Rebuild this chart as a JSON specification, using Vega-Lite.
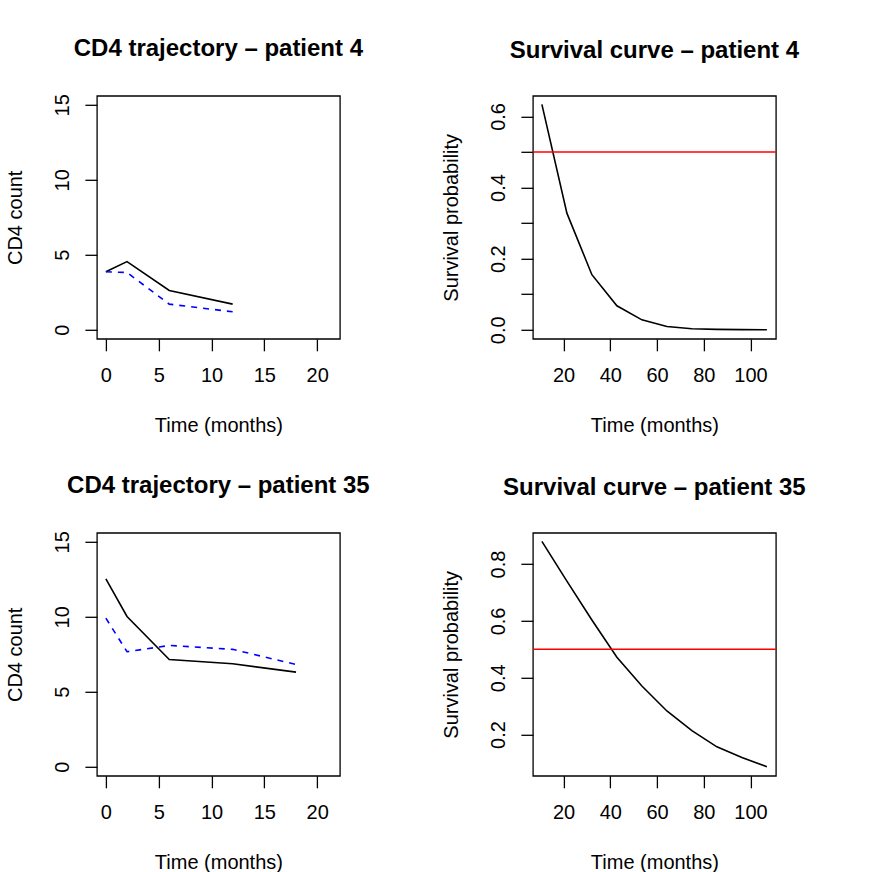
{
  "$schema": "https://vega.github.io/schema/vega-lite/v6.json",
  "background": "white",
  "padding": {"left": 3.9, "top": 35.8, "right": 10, "bottom": 5},
  "datasets": {
    "cd4": [
      {"patient": 4, "series": "observed", "time": 0, "value": 3.87},
      {"patient": 4, "series": "observed", "time": 2, "value": 4.55},
      {"patient": 4, "series": "observed", "time": 6, "value": 2.62},
      {"patient": 4, "series": "observed", "time": 12, "value": 1.71},
      {"patient": 4, "series": "fitted", "time": 0, "value": 3.87},
      {"patient": 4, "series": "fitted", "time": 2, "value": 3.82},
      {"patient": 4, "series": "fitted", "time": 6, "value": 1.71},
      {"patient": 4, "series": "fitted", "time": 12, "value": 1.2},
      {"patient": 35, "series": "observed", "time": 0, "value": 12.53},
      {"patient": 35, "series": "observed", "time": 2, "value": 10.02},
      {"patient": 35, "series": "observed", "time": 6, "value": 7.15},
      {"patient": 35, "series": "observed", "time": 12, "value": 6.87},
      {"patient": 35, "series": "observed", "time": 18, "value": 6.31},
      {"patient": 35, "series": "fitted", "time": 0, "value": 9.91},
      {"patient": 35, "series": "fitted", "time": 2, "value": 7.67},
      {"patient": 35, "series": "fitted", "time": 6, "value": 8.09},
      {"patient": 35, "series": "fitted", "time": 12, "value": 7.83},
      {"patient": 35, "series": "fitted", "time": 18, "value": 6.82}
    ],
    "surv": [
      {"patient": 4, "time": 10.7, "prob": 0.634},
      {"patient": 4, "time": 21.4, "prob": 0.328},
      {"patient": 4, "time": 32.1, "prob": 0.155},
      {"patient": 4, "time": 42.8, "prob": 0.0675},
      {"patient": 4, "time": 53.5, "prob": 0.028},
      {"patient": 4, "time": 64.2, "prob": 0.0094},
      {"patient": 4, "time": 74.9, "prob": 0.003},
      {"patient": 4, "time": 85.6, "prob": 0.0012},
      {"patient": 4, "time": 96.3, "prob": 0.0004},
      {"patient": 4, "time": 107.0, "prob": 0.0001},
      {"patient": 35, "time": 10.7, "prob": 0.88},
      {"patient": 35, "time": 21.4, "prob": 0.74},
      {"patient": 35, "time": 32.1, "prob": 0.603},
      {"patient": 35, "time": 42.8, "prob": 0.472},
      {"patient": 35, "time": 53.5, "prob": 0.371},
      {"patient": 35, "time": 64.2, "prob": 0.283},
      {"patient": 35, "time": 74.9, "prob": 0.214},
      {"patient": 35, "time": 85.6, "prob": 0.157},
      {"patient": 35, "time": 96.3, "prob": 0.119},
      {"patient": 35, "time": 107.0, "prob": 0.087}
    ],
    "ref": [{"level": 0.5}]
  },
  "columns": 2,
  "bounds": "flush",
  "spacing": {"row": 194, "column": 193},
  "concat": [
    {
      "width": 243, "height": 243,
      "title": "CD4 trajectory – patient 4",
      "data": {"name": "cd4"},
      "transform": [{"filter": "datum.patient == 4"}],
      "encoding": {
        "x": {"field": "time", "type": "quantitative", "scale": {"domain": [-0.85, 22.15], "nice": false, "zero": false}, "axis": {"values": [0, 5, 10, 15, 20], "title": "Time (months)"}},
        "y": {"field": "value", "type": "quantitative", "scale": {"domain": [-0.6, 15.6], "nice": false, "zero": false}, "axis": {"values": [0, 5, 10, 15], "title": "CD4 count"}}
      },
      "layer": [
        {"transform": [{"filter": "datum.series == 'observed'"}], "mark": {"type": "line", "color": "black", "strokeWidth": 1.6, "clip": true}},
        {"transform": [{"filter": "datum.series == 'fitted'"}], "mark": {"type": "line", "color": "#0000FF", "strokeWidth": 1.6, "strokeDash": [6, 6], "clip": true}}
      ]
    },
    {
      "width": 243, "height": 243,
      "title": "Survival curve – patient 4",
      "layer": [
        {
          "data": {"name": "surv"},
          "transform": [{"filter": "datum.patient == 4"}],
          "mark": {"type": "line", "color": "black", "strokeWidth": 1.6, "clip": true},
          "encoding": {
            "x": {"field": "time", "type": "quantitative", "scale": {"domain": [6.85, 110.85], "nice": false, "zero": false}, "axis": {"values": [20, 40, 60, 80, 100], "title": "Time (months)"}},
            "y": {"field": "prob", "type": "quantitative", "scale": {"domain": [-0.0253, 0.658], "nice": false, "zero": false}, "axis": {"values": [0, 0.1, 0.2, 0.3, 0.4, 0.5, 0.6], "labelExpr": "round(datum.value*10) % 2 == 0 ? format(datum.value, '.1f') : ''", "title": "Survival probability"}}
          }
        },
        {
          "data": {"name": "ref"},
          "mark": {"type": "rule", "color": "#FF0000", "strokeWidth": 1.6},
          "encoding": {"y": {"field": "level", "type": "quantitative"}}
        }
      ]
    },
    {
      "width": 243, "height": 243,
      "title": "CD4 trajectory – patient 35",
      "data": {"name": "cd4"},
      "transform": [{"filter": "datum.patient == 35"}],
      "encoding": {
        "x": {"field": "time", "type": "quantitative", "scale": {"domain": [-0.85, 22.15], "nice": false, "zero": false}, "axis": {"values": [0, 5, 10, 15, 20], "title": "Time (months)"}},
        "y": {"field": "value", "type": "quantitative", "scale": {"domain": [-0.6, 15.6], "nice": false, "zero": false}, "axis": {"values": [0, 5, 10, 15], "title": "CD4 count"}}
      },
      "layer": [
        {"transform": [{"filter": "datum.series == 'observed'"}], "mark": {"type": "line", "color": "black", "strokeWidth": 1.6, "clip": true}},
        {"transform": [{"filter": "datum.series == 'fitted'"}], "mark": {"type": "line", "color": "#0000FF", "strokeWidth": 1.6, "strokeDash": [6, 6], "clip": true}}
      ]
    },
    {
      "width": 243, "height": 243,
      "title": "Survival curve – patient 35",
      "layer": [
        {
          "data": {"name": "surv"},
          "transform": [{"filter": "datum.patient == 35"}],
          "mark": {"type": "line", "color": "black", "strokeWidth": 1.6, "clip": true},
          "encoding": {
            "x": {"field": "time", "type": "quantitative", "scale": {"domain": [6.85, 110.85], "nice": false, "zero": false}, "axis": {"values": [20, 40, 60, 80, 100], "title": "Time (months)"}},
            "y": {"field": "prob", "type": "quantitative", "scale": {"domain": [0.055, 0.91], "nice": false, "zero": false}, "axis": {"values": [0.2, 0.4, 0.6, 0.8], "format": ".1f", "title": "Survival probability"}}
          }
        },
        {
          "data": {"name": "ref"},
          "mark": {"type": "rule", "color": "#FF0000", "strokeWidth": 1.6},
          "encoding": {"y": {"field": "level", "type": "quantitative"}}
        }
      ]
    }
  ],
  "config": {
    "font": "Liberation Sans",
    "view": {"stroke": "black", "strokeWidth": 1.3, "fill": "white"},
    "title": {"font": "Liberation Sans", "fontSize": 24, "fontWeight": "bold", "color": "black", "baseline": "alphabetic", "offset": 33, "anchor": "middle", "frame": "group"},
    "axis": {
      "domain": false, "grid": false,
      "tickColor": "black", "tickWidth": 1.3, "tickSize": 12,
      "labelFont": "Liberation Sans", "labelFontSize": 20, "labelColor": "black",
      "labelFlush": false, "labelOverlap": false, "labelBaseline": "alphabetic",
      "titleFont": "Liberation Sans", "titleFontSize": 20, "titleFontWeight": "normal", "titleColor": "black",
      "titleBaseline": "alphabetic", "titleAlign": "center"
    },
    "axisX": {"labelAngle": 0, "labelAlign": "center", "labelPadding": 31.2, "titleX": 121.5, "titleY": 93, "titleAngle": 0},
    "axisY": {"labelAngle": 270, "labelAlign": "center", "labelPadding": 16, "titleX": -75.5, "titleY": 121.5, "titleAngle": 270}
  }
}
